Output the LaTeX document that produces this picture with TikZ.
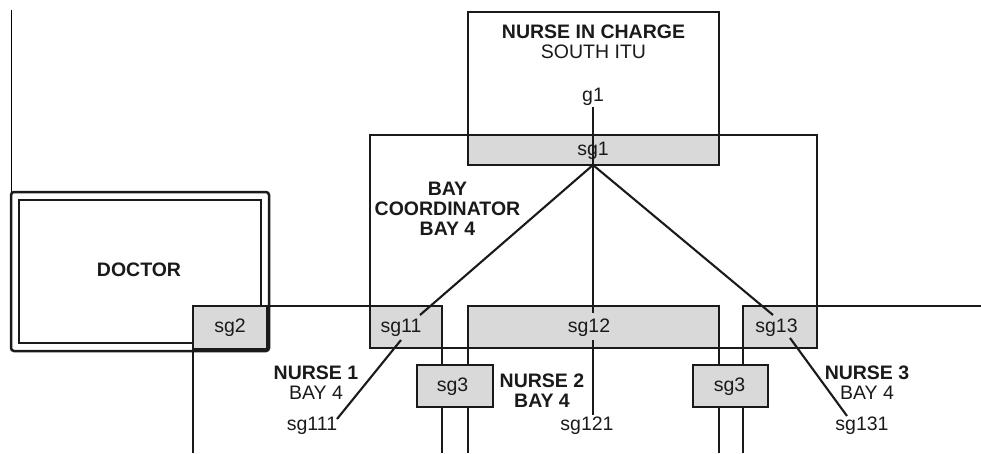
\documentclass[tikz,border=0pt]{standalone}
\usepackage{fontspec}
\setmainfont{Liberation Sans}
\definecolor{boxgray}{HTML}{D9D9D9}
\definecolor{ink}{HTML}{1A1A1A}
\definecolor{thin}{HTML}{808080}
\begin{document}
\begin{tikzpicture}[x=1pt,y=-1pt,
  every node/.style={font=\fontsize{19.5}{20}\selectfont, text=ink},
  frame/.style={draw=ink, line width=2.5pt, inner sep=0pt, outer sep=0pt},
  gbox/.style={frame, fill=boxgray},
  wire/.style={draw=ink, line width=2.5pt},
  conn/.style={draw=ink, line width=2.1pt},
  lab/.style={inner sep=0pt, align=center},
  blab/.style={lab, font=\fontsize{19.5}{20}\selectfont\bfseries}]
\useasboundingbox (0,0) rectangle (981,453);
% thin left line
\coordinate (tl) at (11,10);
\coordinate (tlb) at (11,192);
\draw[thin, line width=1pt] (tl) -- (tlb);
% doctor double box
\node[frame, rounded corners=3pt, minimum width=258pt, minimum height=159pt] (docout) at (140,271.5) {};
\node[frame, minimum width=242pt, minimum height=143pt] (docin) at (140,271.5) {};
\node[blab] (doc) at (139,270) {DOCTOR};
% bay coordinator
\node[frame, minimum width=447pt, minimum height=213pt] (bay) at (593.5,241.5) {};
\node[blab] (baylab) at (447.5,209) {BAY\\COORDINATOR\\BAY 4};
% nurse in charge
\node[frame, minimum width=251pt, minimum height=153pt] (nic) at (593.5,88.5) {};
\node[lab] (niclab) at (593.5,42) {\textbf{NURSE IN CHARGE}\\SOUTH ITU};
\node[gbox, minimum width=251pt, minimum height=30pt] (sg1) at (593.5,150) {};
\node[lab] (sg1t) at (593,150.5) {sg1};
\node[lab] (g1) at (593,97) {g1};
% nurse regions
\coordinate (n1a) at (193,453); \coordinate (n1b) at (193,306);
\coordinate (n1c) at (442,306); \coordinate (n1d) at (442,453);
\coordinate (n2a) at (468,453); \coordinate (n2b) at (468,306);
\coordinate (n2c) at (719,306); \coordinate (n2d) at (719,453);
\coordinate (n3a) at (743,453); \coordinate (n3b) at (743,306);
\coordinate (n3c) at (981,306);
\draw[wire] (n1a) -- (n1b) -- (n1c) -- (n1d);
\draw[wire] (n2a) -- (n2b) -- (n2c) -- (n2d);
\draw[wire] (n3a) -- (n3b) -- (n3c);
% sites
\node[gbox, minimum width=74pt, minimum height=43pt] (sg2) at (230,327.5) {};
\node[lab] (sg2t) at (230,327.5) {sg2};
\node[gbox, minimum width=72pt, minimum height=42pt] (sg11) at (406,327) {};
\node[lab] (sg11t) at (401,327.5) {sg11};
\node[gbox, minimum width=251pt, minimum height=42pt] (sg12) at (593.5,327) {};
\node[lab] (sg12t) at (589,327.5) {sg12};
\node[gbox, minimum width=74pt, minimum height=42pt] (sg13) at (780,327) {};
\node[lab] (sg13t) at (776.5,327.5) {sg13};
\node[gbox, minimum width=76pt, minimum height=42pt] (sg3a) at (455,386) {};
\node[lab] (sg3at) at (452.5,387) {sg3};
\node[gbox, minimum width=75pt, minimum height=42pt] (sg3b) at (730.5,386) {};
\node[lab] (sg3bt) at (729.5,387) {sg3};
% nurse labels
\node[lab] (n1lab) at (316,382.5) {\textbf{NURSE 1}\\BAY 4};
\node[blab] (n2lab) at (542,390.5) {NURSE 2\\BAY 4};
\node[lab] (n3lab) at (867,382.5) {\textbf{NURSE 3}\\BAY 4};
\node[lab] (sg111) at (312,426) {sg111};
\node[lab] (sg121) at (587,426) {sg121};
\node[lab] (sg131) at (862,426) {sg131};
% connectors
\coordinate (hub) at (593,165);
\coordinate (g1b) at (593,107);
\coordinate (c11a) at (420,315); \coordinate (c11b) at (401,340); \coordinate (c111) at (337,419);
\coordinate (c12a) at (593,313); \coordinate (c12b) at (593,340); \coordinate (c121) at (593,415);
\coordinate (c13a) at (773,315); \coordinate (c13b) at (790,338); \coordinate (c131) at (847,416);
\draw[conn] (g1b) -- (hub);
\draw[conn] (hub) -- (c11a);
\draw[conn] (c11b) -- (c111);
\draw[conn] (hub) -- (c12a);
\draw[conn] (c12b) -- (c121);
\draw[conn] (hub) -- (c13a);
\draw[conn] (c13b) -- (c131);
\end{tikzpicture}
\end{document}
